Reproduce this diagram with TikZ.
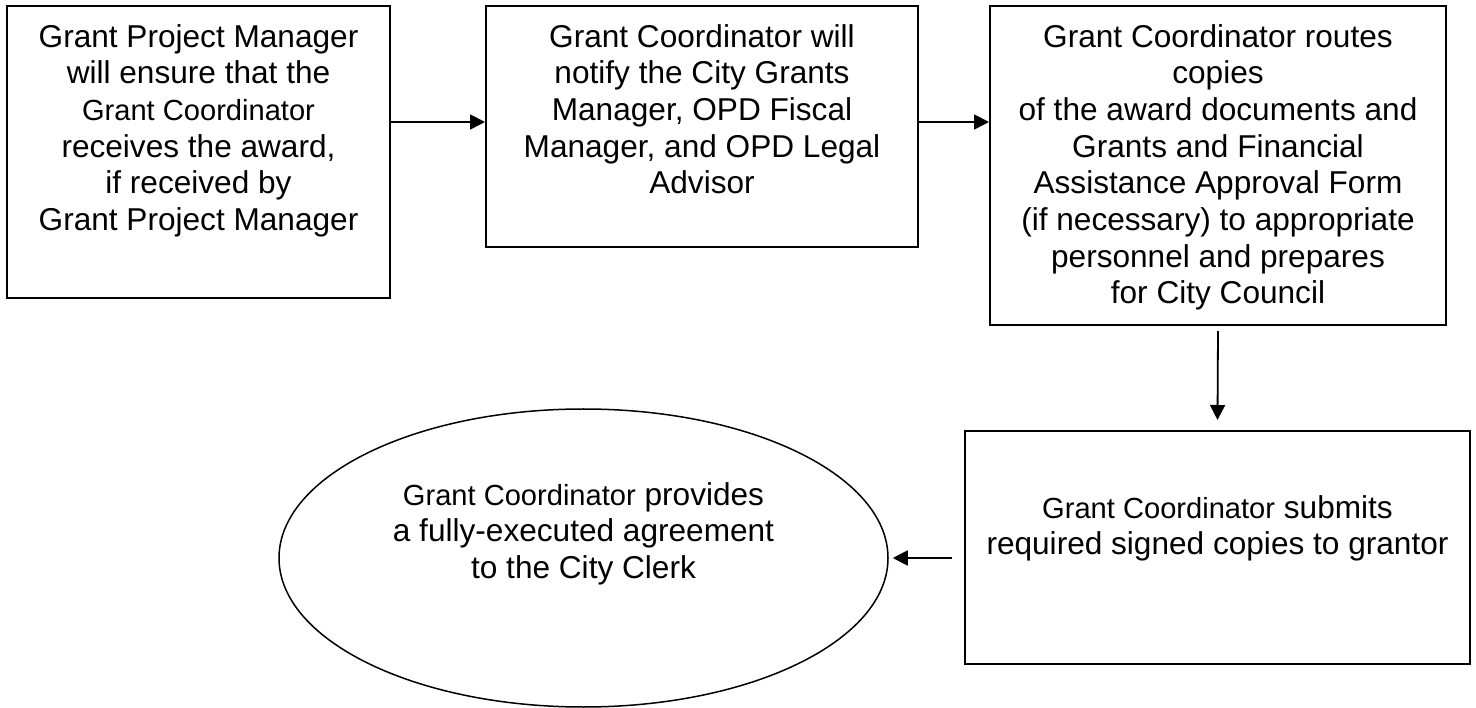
\documentclass[tikz,border=0pt]{standalone}
\usepackage{fontspec}
\setmainfont{Liberation Sans}
\usetikzlibrary{arrows.meta,shapes.geometric}
\newcommand\smallgc[1]{{\fontsize{29.1}{36.7}\selectfont #1}}
\tikzset{
  boxnode/.style={draw, line width=2pt, rectangle, inner sep=0pt},
  ovalnode/.style={draw, line width=1.5pt, ellipse, inner sep=0pt},
  txt/.style={anchor=north, align=center, inner sep=0pt, font=\fontsize{31.6}{36.7}\selectfont},
  arr/.style={line width=1.8pt, -{Triangle[length=15pt,width=15pt]}}
}
\begin{document}
\begin{tikzpicture}[x=1pt,y=-1pt]
\useasboundingbox[fill=white] (0,0) rectangle (1476,708);
% boxes
\node[boxnode, minimum width=383pt, minimum height=292pt] (b1) at (198.5,152) {};
\node[boxnode, minimum width=432pt, minimum height=241pt] (b2) at (702,126.5) {};
\node[boxnode, minimum width=456pt, minimum height=319pt] (b3) at (1218,165.5) {};
\node[boxnode, minimum width=505pt, minimum height=233pt] (b4) at (1217.5,547.5) {};
\node[ovalnode, minimum width=609pt, minimum height=298pt] (e) at (583.5,558) {};
% texts
\node[txt] (t1) at (198.5,24) {Grant Project Manager\\will ensure that the\\\smallgc{Grant Coordinator}\\receives the award,\\if received by\\Grant Project Manager};
\node[txt] (t2) at (702,24) {Grant Coordinator will\\notify the City Grants\\Manager, OPD Fiscal\\Manager, and OPD Legal\\Advisor};
\node[txt] (t3) at (1218,24) {Grant Coordinator routes\\copies\\of the award documents and\\Grants and Financial\\Assistance Approval Form\\(if necessary) to appropriate\\personnel and prepares\\for City Council};
\node[txt] (t4) at (1217.5,495) {\smallgc{Grant Coordinator} submits\\required signed copies to grantor};
\node[txt] (t5) at (583.5,482) {\smallgc{Grant Coordinator} provides\\a fully-executed agreement\\to the City Clerk};
% connectors
\coordinate (a1s) at ([yshift=30pt]b1.east);
\draw[arr] (a1s) -- (a1s -| b2.west);
\coordinate (a2s) at ([yshift=4.5pt]b2.east);
\draw[arr] (a2s) -- (a2s -| b3.west);
\draw[arr] ([yshift=-5pt]b3.south) -- ([yshift=10pt]b4.north);
\coordinate (a4e) at ([xshift=4pt]e.east);
\draw[arr] ([xshift=-12pt]b4.west |- a4e) -- (a4e);
\end{tikzpicture}
\end{document}
